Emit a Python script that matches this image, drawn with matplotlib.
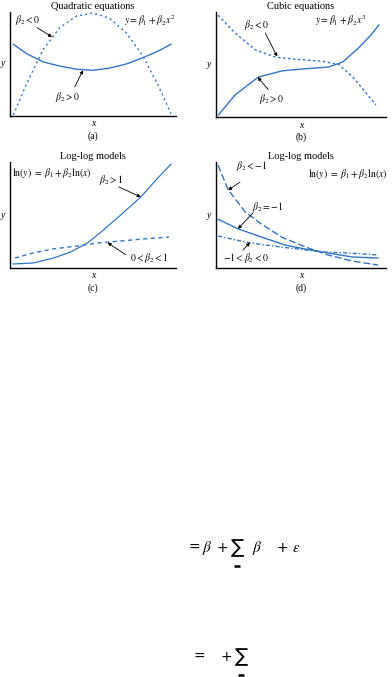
import matplotlib
matplotlib.use("Agg")
import matplotlib.pyplot as plt
from matplotlib.lines import Line2D

W, H = 392, 677
BLUE = "#3276c3"

plt.rcParams["font.family"] = ["Liberation Serif", "DejaVu Serif"]
plt.rcParams["mathtext.fontset"] = "stix"

# (a) quadratic, values (axes units 0..10)
quad_x = [0.2, 1, 2, 3, 4, 5, 6, 7, 8, 9, 9.7]
quad_neg = [0.1, 3.1, 6.4, 8.5, 9.6, 9.9, 9.4, 8.0, 5.8, 2.7, 0.2]
quad_pos = [6.9, 6.0, 5.2, 4.8, 4.5, 4.4, 4.6, 5.0, 5.6, 6.3, 6.9]

# (b) cubic
cub_pos_x = [0.14, 1.12, 2.49, 3.91, 5.27, 6.63, 7.46, 8.4, 9.11, 9.58]
cub_pos = [0.19, 2.1, 3.8, 4.4, 4.6, 4.76, 5.24, 6.6, 7.8, 8.76]
cub_neg_x = [0.12, 1.12, 2.31, 3.49, 4.67, 6.27, 7.22, 8.05, 8.82, 9.41]
cub_neg = [9.7, 8.0, 6.4, 5.7, 5.5, 5.3, 5.0, 3.8, 2.3, 1.14]

# (c) log-log, beta2 > 1 and 0 < beta2 < 1
ll_big_x = [0.18, 1.39, 2.61, 3.64, 4.67, 5.64, 6.67, 7.88, 8.91, 9.7]
ll_big = [0.38, 0.47, 0.94, 1.5, 2.36, 3.6, 5.0, 6.7, 8.5, 9.8]
ll_small_x = [0.3, 1.39, 2.61, 4.06, 5.27, 6.67, 8.06, 9.58]
ll_small = [0.94, 1.42, 1.8, 2.08, 2.36, 2.55, 2.74, 2.92]

# (d) log-log, negative slopes
ll_lt_x = [0.12, 0.71, 1.71, 2.71, 3.88, 5.24, 6.59, 8.0, 9.53]
ll_lt = [9.7, 7.4, 5.3, 4.1, 2.9, 2.0, 1.23, 0.66, 0.28]
ll_eq_x = [0.12, 1.29, 2.71, 4.06, 5.24, 6.59, 8.0, 9.53]
ll_eq = [4.6, 3.7, 2.9, 2.17, 1.79, 1.42, 1.04, 0.94]
ll_mid_x = [0.12, 1.71, 3.29, 4.82, 6.24, 7.76, 9.53]
ll_mid = [3.02, 2.45, 2.08, 1.79, 1.51, 1.42, 1.23]

# equation fragments under the panels: (x pixel, symbol, size)
eq1 = [(194, "=", 10), (207, r"$\beta$", 11), (222, "+", 10), (237, "\u2211", 14),
       (257, r"$\beta$", 11), (282, "+", 10), (296, r"$\varepsilon$", 11)]
eq2 = [(199, "=", 10), (226, "+", 10), (241, "\u2211", 14)]


def panel(fig, left, top, right, bottom, title, tag):
    ax = fig.add_axes([left / W, 1 - bottom / H, (right - left) / W, (bottom - top) / H])
    ax.set_xlim(0, 10)
    ax.set_ylim(0, 10)
    for s in ("top", "right"):
        ax.spines[s].set_visible(False)
    for s in ("left", "bottom"):
        ax.spines[s].set_linewidth(1.0)
    ax.set_xticks([])
    ax.set_yticks([])
    ax.set_title(title, fontsize=7.5, pad=2)
    cx = (left + right) / 2 / W
    fig.text(cx, 1 - (bottom + 8) / H, "x", style="italic", fontsize=7, ha="center", va="center")
    fig.text(cx, 1 - (bottom + 20) / H, tag, fontsize=7, ha="center", va="center")
    fig.text((left - 7) / W, 1 - (top + bottom) / 2 / H, "y", style="italic", fontsize=7,
             ha="center", va="center")
    return ax


def arrow(ax, head, tail):
    ax.annotate("", xy=head, xytext=tail,
                arrowprops=dict(arrowstyle="-|>", lw=0.6, color="black", mutation_scale=5,
                                shrinkA=0, shrinkB=0))


def underbar(fig, px, py):
    # short heavy bar under the summation sign
    fig.add_artist(Line2D([(px - 3) / W, (px + 3) / W], [1 - py / H, 1 - py / H],
                          color="black", lw=1.8, solid_capstyle="butt"))


fig = plt.figure(figsize=(W / 100, H / 100), dpi=100)

# (a)
ax = panel(fig, 10, 12, 176, 116, "Quadratic equations", "(a)")
ax.plot(quad_x, quad_neg, color=BLUE, lw=1.0, ls=(0, (1.5, 2.2)))
ax.plot(quad_x, quad_pos, color=BLUE, lw=1.0)
ax.text(0.3, 9.2, r"$\beta_2 < 0$", fontsize=7, va="center")
arrow(ax, (2.53, 7.6), (1.63, 8.5))
ax.text(9.95, 9.2, r"$y = \beta_1 + \beta_2 x^2$", fontsize=7, ha="right", va="center")
ax.text(3.5, 1.8, r"$\beta_2 > 0$", fontsize=7, ha="center", va="center")
arrow(ax, (4.4, 4.4), (3.9, 2.8))

# (b)
ax = panel(fig, 216, 12, 386, 117, "Cubic equations", "(b)")
ax.plot(cub_neg_x, cub_neg, color=BLUE, lw=1.0, ls=(0, (1.8, 1.8)))
ax.plot(cub_pos_x, cub_pos, color=BLUE, lw=1.0)
ax.text(7.3, 9.2, r"$y = \beta_1 + \beta_2 x^3$", fontsize=7, ha="center", va="center")
ax.text(2.4, 8.8, r"$\beta_2 < 0$", fontsize=7, ha="center", va="center")
arrow(ax, (3.6, 5.75), (2.9, 8.0))
ax.text(3.3, 1.7, r"$\beta_2 > 0$", fontsize=7, ha="center", va="center")
arrow(ax, (2.45, 3.8), (3.08, 2.6))

# (c)
ax = panel(fig, 10, 162, 176, 268, "Log-log models", "(c)")
ax.plot(ll_big_x, ll_big, color=BLUE, lw=0.9)
ax.plot(ll_small_x, ll_small, color=BLUE, lw=1.0, ls=(0, (3, 2.5)))
ax.text(0.15, 8.95, r"$\ln(y)\ =\ \beta_1 + \beta_2 \ln(x)$", fontsize=7, va="center")
ax.text(6.1, 8.3, r"$\beta_2 > 1$", fontsize=7, ha="center", va="center")
arrow(ax, (7.88, 6.7), (6.55, 7.65))
ax.text(8.4, 0.95, r"$0 < \beta_2 < 1$", fontsize=7, ha="center", va="center")
arrow(ax, (5.88, 2.4), (6.97, 1.25))

# (d)
ax = panel(fig, 216, 162, 386, 268, "Log-log models", "(d)")
ax.plot(ll_lt_x, ll_lt, color=BLUE, lw=1.0, ls=(0, (5, 2)))
ax.plot(ll_eq_x, ll_eq, color=BLUE, lw=1.0)
ax.plot(ll_mid_x, ll_mid, color=BLUE, lw=1.0, ls=(0, (3, 1.5, 1, 1.5)))
ax.text(2.1, 9.6, r"$\beta_2 < -1$", fontsize=7, ha="center", va="center")
arrow(ax, (0.71, 7.35), (1.41, 8.1))
ax.text(5.4, 8.85, r"$\ln(y)\ =\ \beta_1 + \beta_2 \ln(x)$", fontsize=7, va="center",
        clip_on=False)
ax.text(3.06, 5.75, r"$\beta_2 = -1$", fontsize=7, ha="center", va="center")
arrow(ax, (1.29, 3.7), (2.18, 5.2))
ax.text(1.75, 0.95, r"$-1 < \beta_2 < 0$", fontsize=7, ha="center", va="center")
arrow(ax, (2.0, 2.4), (1.59, 1.7))

# equation fragments below the figure
for px, s, fs in eq1:
    fig.text(px / W, 1 - 548 / H, s, fontsize=fs, ha="center", va="center",
             family=["DejaVu Sans"])
underbar(fig, 237, 566)
for px, s, fs in eq2:
    fig.text(px / W, 1 - 657 / H, s, fontsize=fs, ha="center", va="center",
             family=["DejaVu Sans"])
underbar(fig, 241, 675)

fig.savefig("out.png", dpi=100)
